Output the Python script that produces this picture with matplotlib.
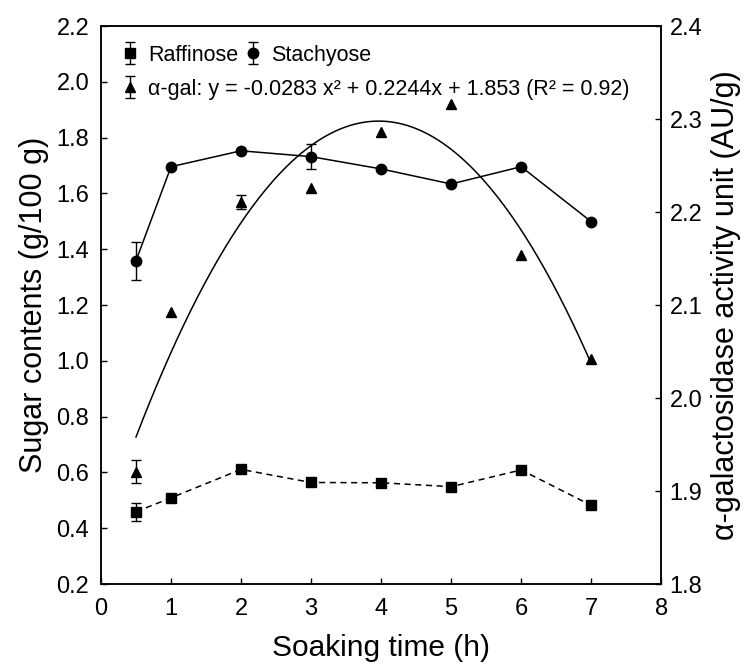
import numpy as np
import matplotlib.pyplot as plt

plt.rcParams['font.family'] = ['Liberation Sans', 'DejaVu Sans']

nan = np.nan

# soaking times (h)
t = [0.5, 1, 2, 3, 4, 5, 6, 7]

# sugar contents, g/100 g (nan = error bar smaller than the marker)
raffinose = [0.459, 0.509, 0.611, 0.564, 0.563, 0.549, 0.609, 0.482]
raffinose_err = [0.033, nan, nan, nan, nan, nan, nan, nan]
stachyose = [1.359, 1.696, 1.753, 1.732, 1.688, 1.634, 1.696, 1.499]
stachyose_err = [0.068, nan, nan, 0.046, nan, nan, nan, nan]

# alpha-galactosidase activity, AU/g
agal = [1.921, 2.093, 2.211, 2.226, 2.286, 2.316, 2.154, 2.042]
agal_err = [0.012, nan, 0.0075, nan, nan, nan, nan, nan]

# quadratic fit reported for alpha-gal
fit_a, fit_b, fit_c = -0.0283, 0.2244, 1.853

fig = plt.figure(figsize=(7.52, 6.69), dpi=100)
ax = fig.add_axes([0.1343, 0.127, 0.745, 0.834])
ax2 = ax.twinx()

eb = dict(color='black', ecolor='black', elinewidth=1.0, capsize=3.5, capthick=1.0,
          linestyle='none')

r = ax.errorbar(t, raffinose, yerr=raffinose_err, fmt='s', markersize=7.5, **eb)
ax.plot(t, raffinose, color='black', lw=1.1, ls=(0, (4, 3)))
s = ax.errorbar(t, stachyose, yerr=stachyose_err, fmt='o', markersize=7.5, **eb)
ax.plot(t, stachyose, color='black', lw=1.1)

g = ax2.errorbar(t, agal, yerr=agal_err, fmt='^', markersize=6.5, **eb)
xf = np.linspace(t[0], t[-1], 200)
ax2.plot(xf, fit_a * xf**2 + fit_b * xf + fit_c, color='black', lw=1.1)

ax.set_xlim(0, 8)
ax.set_ylim(0.2, 2.2)
ax2.set_ylim(1.8, 2.4)
ax.set_xticks(range(0, 9))
ax.set_yticks(np.arange(0.2, 2.21, 0.2))
ax.set_yticklabels([f'{v:.1f}' for v in np.arange(0.2, 2.21, 0.2)])
ax2.set_yticks(np.arange(1.8, 2.41, 0.1))
ax2.set_yticklabels([f'{v:.1f}' for v in np.arange(1.8, 2.41, 0.1)])

for a in (ax, ax2):
    a.tick_params(direction='in', length=4, width=1, labelsize=17)
    for sp in a.spines.values():
        sp.set_linewidth(1.1)
ax.tick_params(axis='y', pad=8.5)
ax.tick_params(axis='x', pad=10)
ax2.tick_params(axis='y', pad=6)

ax.set_xlabel('Soaking time (h)', fontsize=21.5, labelpad=10)
ax.set_ylabel('Sugar contents (g/100 g)', fontsize=22, labelpad=5)
ax2.set_ylabel('α-galactosidase activity unit (AU/g)', fontsize=22, labelpad=6)

leg_kw = dict(loc='center left', frameon=False, fontsize=15.5, borderpad=0,
              borderaxespad=0, handlelength=1.0, handletextpad=0.35,
              columnspacing=0.2)
leg1 = ax2.legend([r, s], ['Raffinose', 'Stachyose'], ncol=2,
                  bbox_to_anchor=(0.032, 0.948), **leg_kw)
ax2.add_artist(leg1)
ax2.legend([g], ['α-gal: y = -0.0283 x² + 0.2244x + 1.853 (R² = 0.92)'],
           bbox_to_anchor=(0.032, 0.887), **leg_kw)

fig.savefig('out.png', dpi=100)
